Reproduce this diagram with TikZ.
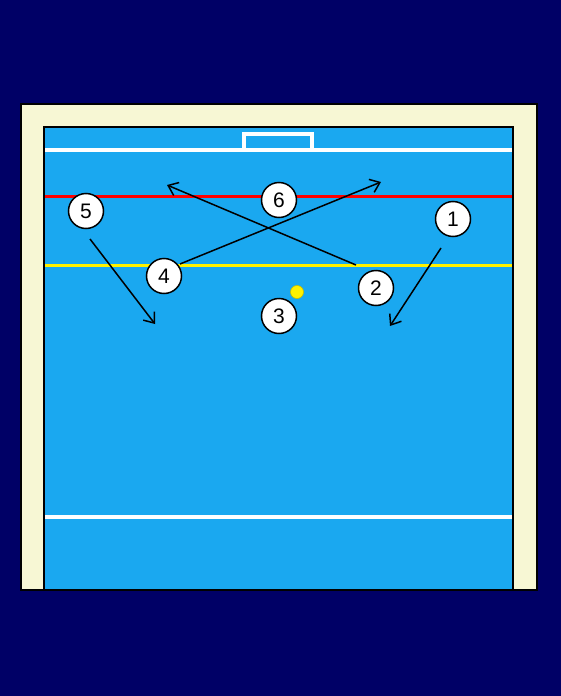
\documentclass[tikz,border=0pt]{standalone}
\usepackage{fontspec}
\setmainfont{Liberation Sans}
\usetikzlibrary{arrows.meta}
\definecolor{navy}{RGB}{0,0,102}
\definecolor{cream}{RGB}{247,247,212}
\definecolor{pool}{RGB}{26,168,240}
\definecolor{balledge}{RGB}{200,190,0}
\begin{document}
\begin{tikzpicture}[x=1pt,y=-1pt,
  player/.style={circle,draw=black,line width=1.5pt,fill=white,minimum size=35pt,inner sep=0pt,font=\fontsize{21}{21}\selectfont},
  move/.style={line width=1.5pt,-{Straight Barb[length=9pt,width=14pt,line width=1.5pt]}},
  wline/.style={white,line width=3.2pt},
  ]
\useasboundingbox (0,0) rectangle (560,696);
\fill[navy] (-5,-5) rectangle (565,701);
\filldraw[fill=cream,draw=black,line width=2pt] (21,104) rectangle (537,590);
\filldraw[fill=pool,draw=black,line width=2pt] (44,127) rectangle (513,590);
% lines
\draw[wline] (45,150) -- (512,150);
\draw[wline] (244,150) -- (244,134) -- (312,134) -- (312,150);
\draw[red,line width=3.2pt] (45,196.5) -- (512,196.5);
\draw[yellow,line width=3.2pt] (45,265.5) -- (512,265.5);
\draw[wline] (45,517) -- (512,517);
% movement endpoints
\coordinate (a2s) at (356,265);
\coordinate (a2e) at (167,185);
\coordinate (a4s) at (180,264);
\coordinate (a4e) at (381,182);
\coordinate (a5s) at (90,239);
\coordinate (a5e) at (155,324);
\coordinate (a1s) at (441,248);
\coordinate (a1e) at (390,326);
\draw[move] (a2s) -- (a2e);
\draw[move] (a4s) -- (a4e);
\draw[move] (a5s) -- (a5e);
\draw[move] (a1s) -- (a1e);
% players
\node[player] (p5) at (86,211) {5};
\node[player] (p6) at (279,200) {6};
\node[player] (p1) at (453,219) {1};
\node[player] (p4) at (164,276) {4};
\node[player] (p2) at (376,288) {2};
\node[player] (p3) at (279,316) {3};
\node[circle,draw=balledge,fill=yellow,line width=0.6pt,minimum size=13pt,inner sep=0pt] (ball) at (297,292) {};
\end{tikzpicture}
\end{document}
